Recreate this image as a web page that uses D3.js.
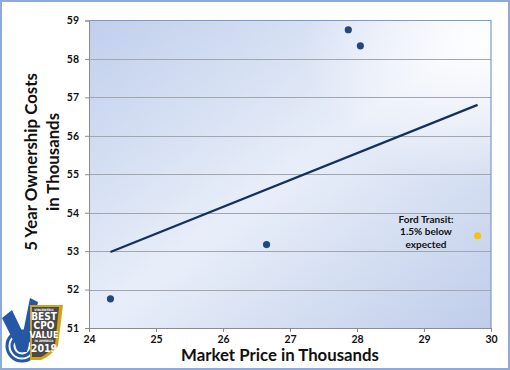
<!DOCTYPE html>
<html><head><meta charset="utf-8">
<script src="https://cdn.jsdelivr.net/npm/d3@7"></script>
<style>
html,body{margin:0;padding:0;background:#fff;}
svg{display:block;}
text{font-family:Lato,"Open Sans",sans-serif;}
</style></head>
<body>
<script>
// ---- data ----
const marketPrice = [24.32, 26.65, 27.87, 28.05];
const ownershipCost = [51.76, 53.17, 58.76, 58.34];
const highlightName = "Ford Transit";
const highlightPrice = [29.80];
const highlightCost = [53.40];
const annotationLines = ["Ford Transit:", "1.5% below", "expected"];
const xTicks = [24, 25, 26, 27, 28, 29, 30];
const yTicks = [51, 52, 53, 54, 55, 56, 57, 58, 59];
const xTitle = "Market Price in Thousands";
const yTitleLines = ["5 Year Ownership Costs", "in Thousands"];

const W = 510, H = 370;
const m = {left: 89, right: 19, top: 20.5, bottom: 42};
const svg = d3.select("body").append("svg").attr("width", W).attr("height", H);

// outer border
svg.append("rect").attr("x", 1).attr("y", 1).attr("width", W - 2).attr("height", H - 2)
  .attr("fill", "#fff").attr("stroke", "#8eaad6").attr("stroke-width", 2);

const x = d3.scaleLinear().domain([24, 30]).range([m.left, W - m.right]);
const y = d3.scaleLinear().domain([51, 59]).range([H - m.bottom, m.top]);

// gradient
const defs = svg.append("defs");
const g = defs.append("linearGradient").attr("id", "bg")
  .attr("x1", 0).attr("y1", 0).attr("x2", 1).attr("y2", 1);
g.append("stop").attr("offset", 0).attr("stop-color", "#c0cfec");
g.append("stop").attr("offset", 0.5).attr("stop-color", "#e8eef9");
g.append("stop").attr("offset", 1).attr("stop-color", "#bfcdea");
const g2 = defs.append("radialGradient").attr("id", "glow")
  .attr("cx", 0.98).attr("cy", 0.08).attr("r", 0.45);
g2.append("stop").attr("offset", 0).attr("stop-color", "#ffffff").attr("stop-opacity", 0.95);
g2.append("stop").attr("offset", 1).attr("stop-color", "#ffffff").attr("stop-opacity", 0);

svg.append("rect").attr("x", x(24)).attr("y", y(59)).attr("width", x(30) - x(24)).attr("height", y(51) - y(59))
  .attr("fill", "url(#bg)");
svg.append("rect").attr("x", x(24)).attr("y", y(59)).attr("width", x(30) - x(24)).attr("height", y(51) - y(59))
  .attr("fill", "url(#glow)");

// gridlines
svg.append("g").selectAll("line").data(yTicks.slice(1, -1)).join("line")
  .attr("x1", x(24)).attr("x2", x(30)).attr("y1", d => Math.round(y(d)) + 0.5).attr("y2", d => Math.round(y(d)) + 0.5)
  .attr("stroke", "#a3a6ad").attr("stroke-width", 1.2);

// plot border top/right
svg.append("path")
  .attr("d", `M${x(24)},${y(59)}H${x(30)}V${y(51)}`)
  .attr("fill", "none").attr("stroke", "#8099c6").attr("stroke-width", 1.2);

// axes
const yAxis = svg.append("g").attr("transform", `translate(${x(24)},0)`)
  .call(d3.axisLeft(y).tickValues(yTicks).tickSize(4).tickPadding(6).tickFormat(d3.format("d")));
const xAxis = svg.append("g").attr("transform", `translate(0,${y(51)})`)
  .call(d3.axisBottom(x).tickValues(xTicks).tickSize(4).tickPadding(4).tickFormat(d3.format("d")));
[yAxis, xAxis].forEach(a => {
  a.select(".domain").attr("stroke", "#8c8c8c");
  a.selectAll(".tick line").attr("stroke", "#8c8c8c");
  a.selectAll(".tick text").attr("fill", "#111").attr("font-weight", "bold").attr("font-size", 10.5)
    .style("font-family", "Lato, sans-serif");
});

// trend line (least squares over all points)
const allX = marketPrice.concat(highlightPrice), allY = ownershipCost.concat(highlightCost);
const mx = d3.mean(allX), my = d3.mean(allY);
const slope = d3.sum(allX, (v, i) => (v - mx) * (allY[i] - my)) / d3.sum(allX, v => (v - mx) * (v - mx));
const x0 = d3.min(allX), x1 = d3.max(allX);
svg.append("line")
  .attr("x1", x(x0)).attr("y1", y(my + slope * (x0 - mx)))
  .attr("x2", x(x1)).attr("y2", y(my + slope * (x1 - mx)))
  .attr("stroke", "#15305c").attr("stroke-width", 2.2);

// points
svg.append("g").selectAll("circle").data(marketPrice).join("circle")
  .attr("cx", (d) => x(d)).attr("cy", (d, i) => y(ownershipCost[i])).attr("r", 3.6)
  .attr("fill", "#21497e");
svg.append("g").selectAll("circle").data(highlightPrice).join("circle")
  .attr("cx", d => x(d)).attr("cy", (d, i) => y(highlightCost[i])).attr("r", 3.6)
  .attr("fill", "#fbbf12");

// annotation
svg.append("g").selectAll("text").data(annotationLines).join("text")
  .attr("x", x(29.03)).attr("y", (d, i) => y(highlightCost[0]) - 13 + i * 12.5)
  .attr("text-anchor", "middle").attr("font-size", 10).attr("font-weight", "bold").attr("fill", "#111")
  .text(d => d);

// axis titles
svg.append("text").attr("x", (x(24) + x(30)) / 2 - 10).attr("y", 361)
  .attr("text-anchor", "middle").attr("font-size", 16.8).attr("font-weight", "bold").attr("fill", "#111")
  .text(xTitle);
svg.append("g").selectAll("text").data(yTitleLines).join("text")
  .attr("transform", (d, i) => `translate(${37 + i * 22},162) rotate(-90)`)
  .attr("x", 0).attr("y", 0)
  .attr("text-anchor", "middle").attr("font-size", 16.8).attr("font-weight", "bold").attr("fill", "#111")
  .text(d => d);

// badge logo
const b = svg.append("g");
b.append("path").attr("d", "M2,318 L12,310 L23,333 L30,298 L38,302 L27,352 L19,352 Z")
  .attr("fill", "#2557a7");
[15, 10, 5].forEach((r, i) => {
  b.append("circle").attr("cx", 22).attr("cy", 346).attr("r", r)
    .attr("fill", "none").attr("stroke", "#2557a7").attr("stroke-width", 3);
});
b.append("circle").attr("cx", 22).attr("cy", 346).attr("r", 2).attr("fill", "#2557a7");
b.append("path").attr("d", "M30,305 L63,305 L58,346 Q51,356 41,360 L30,360 Z").attr("fill", "#d3a21c");
b.append("path").attr("d", "M32,307 L59,307 L55,345 Q49,353 41,357 L32,357 Z").attr("fill", "#4a4a4a");
const bt = [["VINCENTRIC", 310.5, 3.2], ["BEST", 319.5, 10], ["CPO", 329, 10], ["VALUE", 337.5, 9], ["IN AMERICA", 341.5, 3.2], ["2019", 351.5, 10.5]];
b.selectAll("text.bt").data(bt).join("text").attr("class", "bt")
  .attr("x", 44).attr("y", d => d[1]).attr("font-size", d => d[2])
  .attr("text-anchor", "middle").attr("font-weight", "900").attr("fill", "#fff")
  .style("font-family", "'Liberation Sans Narrow', 'DejaVu Sans Condensed', sans-serif")
  .text(d => d[0]);
</script>
</body></html>
